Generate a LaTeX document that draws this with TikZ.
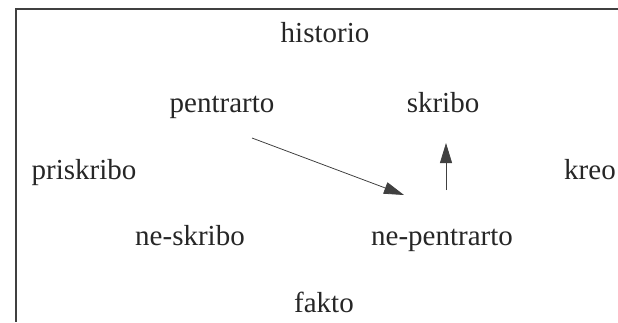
\documentclass[tikz,border=0pt]{standalone}
\usepackage{fontspec}
\setmainfont{Liberation Serif}
\usetikzlibrary{arrows.meta}
\begin{document}
\begin{tikzpicture}[x=1pt,y=-1pt,
  lbl/.style={anchor=base,inner sep=0pt,font=\fontsize{29}{33}\selectfont,text=black!85},
  frameline/.style={line width=1.6pt,draw=black!75},
  conn/.style={line width=0.8pt,draw=black!75,-{Triangle[length=20pt,width=12pt]}}]
\useasboundingbox (0,0) rectangle (618,322);
\coordinate (tl) at (16,9);
\coordinate (tr) at (618,9);
\coordinate (bl) at (16,322);
\draw[frameline] (tr) -- (tl) -- (bl);
\node[lbl] (historio) at (325,42) {historio};
\node[lbl] (pentrarto) at (222,112) {pentrarto};
\node[lbl] (skribo) at (443,112) {skribo};
\node[lbl] (priskribo) at (84,179) {priskribo};
\node[lbl] (kreo) at (590,179) {kreo};
\node[lbl] (neskribo) at (190,245) {ne-skribo};
\node[lbl] (nepentrarto) at (442,245) {ne-pentrarto};
\node[lbl] (fakto) at (324,312) {fakto};
\coordinate (a1s) at (252,138);
\coordinate (a1e) at (404,195);
\coordinate (a2s) at (446,190);
\coordinate (a2e) at (446,143);
\draw[conn] (a1s) -- (a1e);
\draw[conn] (a2s) -- (a2e);
\end{tikzpicture}
\end{document}
